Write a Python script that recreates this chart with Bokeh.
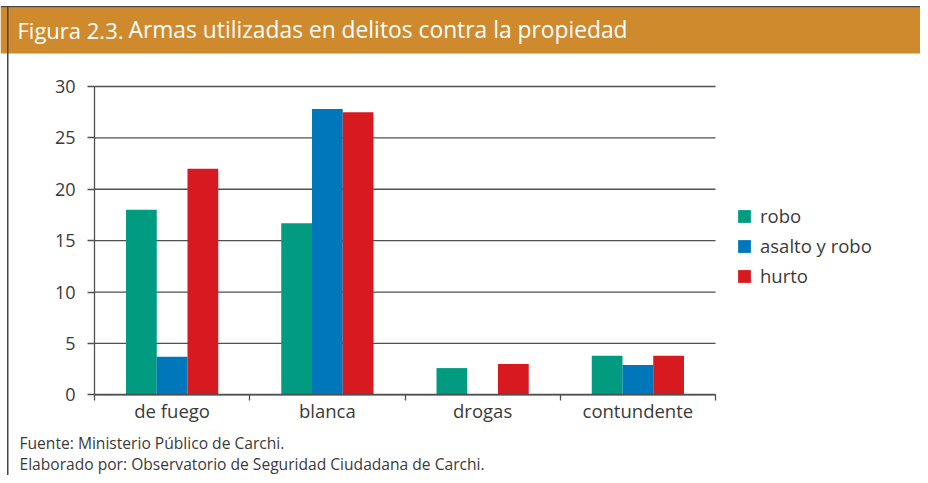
from bokeh.plotting import figure
from bokeh.models import (ColumnDataSource, Range1d, LinearAxis, FixedTicker, Legend,
                          LegendItem)
from bokeh.transform import dodge
from bokeh.core.properties import value
from bokeh.embed import file_html
from bokeh.resources import INLINE

# ---- data ----
categories = ["de fuego", "blanca", "drogas", "contundente"]
series_names = ["robo", "asalto y robo", "hurto"]
robo = [18.0, 16.7, 2.6, 3.8]
asalto_y_robo = [3.7, 27.8, 0.0, 2.9]
hurto = [22.0, 27.5, 3.0, 3.8]
y_ticks = [0, 5, 10, 15, 20, 25, 30]
title_prefix = "Figura 2.3."
title_main = "Armas utilizadas en delitos contra la propiedad"
footnotes = ["Fuente: Ministerio Público de Carchi.",
             "Elaborado por: Observatorio de Seguridad Ciudadana de Carchi."]

# ---- style / layout (pixels) ----
colors = ["#009B80", "#0077BA", "#D71920"]
header_color = "#CF8A2E"
ink = "#3A3A3A"
line_col = "#505050"
frame_col = "#444444"
FONT = "Open Sans"
W, H = 920, 475
PL, PR, PT, PB = 94, 715, 86, 394.3      # plot area within the canvas
Y_MAX = y_ticks[-1]
NCAT = len(categories)


def dx(px):
    return (px - PL) / (PR - PL) * NCAT


def dy(py):
    return (PB - py) / (PB - PT) * Y_MAX


p = figure(width=W, height=H, output_backend="svg", toolbar_location=None,
           x_range=Range1d(dx(0), dx(W)), y_range=Range1d(dy(H), dy(0)),
           x_axis_type=None, y_axis_type=None,
           min_border=0, min_border_left=0, min_border_right=0,
           min_border_top=0, min_border_bottom=0)
p.outline_line_color = None
p.background_fill_color = "white"
p.border_fill_color = "white"

# header band + outer frame lines
p.quad(left=[dx(0)], right=[dx(W)], top=[dy(7)], bottom=[dy(53)],
       fill_color=header_color, line_color=None)
p.quad(left=[dx(0)], right=[dx(W)], top=[dy(5.5)], bottom=[dy(7)],
       fill_color=frame_col, line_color=None)
p.quad(left=[dx(6.5)], right=[dx(8)], top=[dy(5.5)], bottom=[dy(H)],
       fill_color=frame_col, line_color=None)
p.text(x=[dx(17)], y=[dy(29)], text=[title_prefix], text_font=value(FONT),
       text_font_size="22px", text_color="white", text_baseline="alphabetic")
p.text(x=[dx(128)], y=[dy(29)], text=[title_main], text_font=value(FONT),
       text_font_size="22.8px", text_color="white", text_baseline="alphabetic")

# horizontal grid lines limited to the category span
p.segment(x0=[0] * len(y_ticks), x1=[NCAT] * len(y_ticks), y0=y_ticks, y1=y_ticks,
          line_color=line_col, line_width=1.3)

# axes fixed at data 0
yaxis = LinearAxis(fixed_location=0, bounds=(0, Y_MAX), ticker=FixedTicker(ticks=y_ticks),
                   axis_line_color=line_col, axis_line_width=1.3,
                   major_tick_line_color=line_col, major_tick_line_width=1.3,
                   major_tick_in=0, major_tick_out=7,
                   minor_tick_line_color=None,
                   major_label_text_font=FONT, major_label_text_font_size="18px",
                   major_label_text_color=ink, major_label_standoff=12)
p.add_layout(yaxis, "left")

centres = [i + 0.5 for i in range(NCAT)]
xaxis = LinearAxis(fixed_location=0, bounds=(0, NCAT),
                   ticker=FixedTicker(ticks=centres, minor_ticks=list(range(NCAT + 1))),
                   major_label_overrides={c: lab for c, lab in zip(centres, categories)},
                   axis_line_color=line_col, axis_line_width=1.3,
                   major_tick_line_color=None, major_tick_in=0, major_tick_out=0,
                   minor_tick_line_color=line_col, minor_tick_line_width=1.3,
                   minor_tick_in=0, minor_tick_out=6,
                   major_label_text_font=FONT, major_label_text_font_size="18.5px",
                   major_label_text_color=ink, major_label_standoff=-3)
p.add_layout(xaxis, "below")

# bars
src = ColumnDataSource(dict(x=centres, robo=robo, asalto=asalto_y_robo, hurto=hurto))
w = 0.198
fields = ["robo", "asalto", "hurto"]
offsets = [-w, 0.0, w]
items = []
for f, off, col, name in zip(fields, offsets, colors, series_names):
    r = p.vbar(x=dodge("x", off), top=f, width=w, source=src,
               fill_color=col, line_color=None)
    items.append(LegendItem(label=name, renderers=[r]))

legend = Legend(items=items, location=(736, 187), orientation="vertical",
                label_text_font=FONT, label_text_font_size="18.5px", label_text_color=ink,
                glyph_width=16, glyph_height=16, label_standoff=8, spacing=5,
                padding=0, margin=0, border_line_color=None, background_fill_alpha=0)
p.add_layout(legend)

# footer
p.text(x=[dx(19), dx(19)], y=[dy(442.5), dy(463.5)], text=footnotes, text_font=value(FONT),
       text_font_size="15.6px", text_color=ink, text_baseline="alphabetic")

open("out.html", "w").write(file_html(p, INLINE))
